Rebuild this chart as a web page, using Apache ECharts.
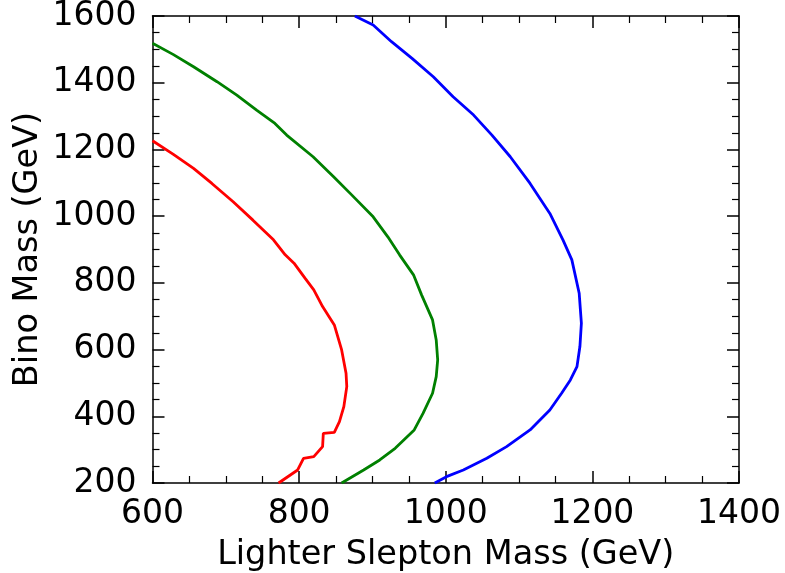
<!DOCTYPE html>
<html>
<head>
<meta charset="utf-8">
<script src="https://cdn.jsdelivr.net/npm/echarts@6/dist/echarts.min.js"></script>
<style>html,body{margin:0;padding:0;background:#fff;}#c{width:785px;height:573px;}</style>
</head>
<body>
<div id="c"></div>
<script>
// Data (GeV): [lighter slepton mass, bino mass]
const redCurve = [
  [600,1226],[628,1186],[656,1143],[681,1098],[710,1043],[737,988],[765,929],[781,884],
  [793,859],[808,814],[820,779],[832,729],[848,674],[858,599],[864,529],[865,489],
  [861,429],[855,384],[848,352],[833,349],[832,309],[820,279],[806,274],[798,239],[772,200]
];
const greenCurve = [
  [600,1518],[628,1485],[656,1448],[688,1403],[715,1363],[742,1318],[767,1278],[783,1243],
  [819,1178],[847,1118],[872,1063],[901,998],[921,938],[937,884],[956,824],[967,764],
  [982,689],[987,629],[989,569],[987,519],[982,469],[969,409],[957,359],[931,304],
  [910,269],[888,239],[858,200]
];
const blueCurve = [
  [876,1600],[901,1573],[926,1523],[954,1473],[983,1418],[1010,1358],[1038,1303],[1063,1243],
  [1088,1178],[1115,1098],[1142,1008],[1160,928],[1172,869],[1182,769],[1185,679],
  [1183,609],[1179,549],[1170,509],[1158,469],[1142,419],[1115,359],[1083,309],
  [1056,274],[1024,239],[1001,219],[985,200]
];
const xTicks = {min:600, max:1400, interval:200};
const yTicks = {min:200, max:1600, interval:200};

const FONT = 'DejaVu Sans';
const axisLine = {show:true, lineStyle:{color:'#000', width:1.5}};
const axisTick = {show:true, inside:true, length:12, lineStyle:{color:'#000', width:1.5}};
const minorTick = {show:true, splitNumber:4, length:7, lineStyle:{color:'#000', width:1.2}};
const fmt = v => String(v);

function xa(pos, showLabel){
  return {type:'value', position:pos, min:xTicks.min, max:xTicks.max, interval:xTicks.interval,
    axisLine, axisTick, minorTick, splitLine:{show:false},
    axisLabel:{show:showLabel, color:'#000', fontFamily:FONT, fontSize:33, margin:15, formatter:fmt},
    name: showLabel ? 'Lighter Slepton Mass (GeV)' : '', nameLocation:'middle', nameGap:55,
    nameMoveOverlap:false,
    nameTextStyle:{color:'#000', fontFamily:FONT, fontSize:33.5}};
}
function ya(pos, showLabel){
  return {type:'value', position:pos, min:yTicks.min, max:yTicks.max, interval:yTicks.interval,
    axisLine, axisTick, minorTick, splitLine:{show:false},
    axisLabel:{show:showLabel, color:'#000', fontFamily:FONT, fontSize:33, margin:16, formatter:fmt},
    name: showLabel ? 'Bino Mass (GeV)' : '', nameLocation:'middle', nameGap:107, nameRotate:90,
    nameMoveOverlap:false,
    nameTextStyle:{color:'#000', fontFamily:FONT, fontSize:33.5}};
}
function line(data, color){
  return {type:'line', data, xAxisIndex:0, yAxisIndex:0, showSymbol:false, symbol:'none',
    lineStyle:{color, width:2.8}, itemStyle:{color}, animation:false, clip:true};
}
const chart = echarts.init(document.getElementById('c'), null, {renderer:'canvas'});
chart.setOption({
  backgroundColor:'#fff',
  animation:false,
  grid:{left:152.5, right:46, top:16, bottom:90, containLabel:false, outerBoundsMode:'none'},
  xAxis:[xa('bottom', true), xa('top', false)],
  yAxis:[ya('left', true), ya('right', false)],
  series:[line(redCurve,'#ff0000'), line(greenCurve,'#008000'), line(blueCurve,'#0000ff')]
});
</script>
</body>
</html>
